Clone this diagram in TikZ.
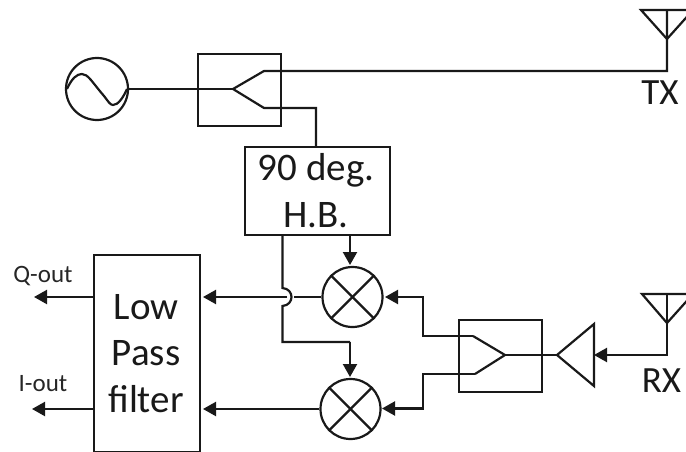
\documentclass[tikz,border=0pt]{standalone}
\usepackage{fontspec}
\setmainfont{Carlito}
\usetikzlibrary{arrows.meta}
\tikzset{
  x=1pt,y=-1pt,
  wire/.style={line width=2.2pt,line join=miter,draw=black!90},
  arrowwire/.style={wire,-{Triangle[length=13pt,width=14pt]}},
  blockbox/.style={draw=black!90,line width=2.4pt,rectangle,inner sep=0pt,anchor=north west,align=center},
  mixer/.style={draw=black!90,line width=2.2pt,circle,minimum size=60pt,inner sep=0pt},
  bigtext/.style={font=\fontsize{39}{46}\selectfont,inner sep=0pt,anchor=base,text=black!90},
  labeltext/.style={font=\fontsize{37}{46}\selectfont,inner sep=0pt,anchor=base,text=black!90},
  smalltext/.style={font=\fontsize{25}{28}\selectfont,text=black!85,inner sep=0pt,anchor=base}
}
\begin{document}
\begin{tikzpicture}
\useasboundingbox (0,0) rectangle (686,452);
% blocks
\node[blockbox,minimum width=83pt,minimum height=72pt] (split) at (197,53) {};
\node[blockbox,minimum width=145pt,minimum height=88pt] (hb) at (244,146) {};
\node[bigtext] (hbone) at (316,180) {90 deg.};
\node[bigtext] (hbtwo) at (316,227) {H.B.};
\node[blockbox,minimum width=106pt,minimum height=197pt] (lpf) at (92.5,254) {};
\node[bigtext] (lpfa) at (146,319) {Low};
\node[bigtext] (lpfb) at (146,365) {Pass};
\node[bigtext] (lpfc) at (146,412) {filter};
\node[blockbox,minimum width=83pt,minimum height=72pt] (comb) at (458,319) {};
% oscillator
\node[draw=black!90,line width=2.2pt,circle,minimum size=62pt,inner sep=0pt] (osc) at (97,89) {};
\draw[line width=2.2pt,draw=black!90] (67,89) .. controls (72,78) and (77,74) .. (82,74)
  .. controls (88,74) and (92,82) .. (104,96)
  .. controls (108,101) and (110,105) .. (113,105)
  .. controls (118,105) and (123,98) .. (127,89);
% mixers
\node[mixer] (m1) at (352.5,297) {};
\node[mixer] (m2) at (350.5,409) {};
\foreach \m in {m1,m2}{
  \draw[wire] (\m.45) -- (\m.225);
  \draw[wire] (\m.135) -- (\m.315);
}
% TX path
\coordinate (sa) at (233,89);
\coordinate (su) at (264,71);
\coordinate (sl) at (264,108);
\coordinate (hbin) at (316,146);
\coordinate (txa) at (667,39);
\coordinate (txtop) at (667,10);
\coordinate (txl) at (641,10);
\coordinate (txr) at (693,10);
\draw[wire] (osc.east) -- (sa);
\draw[wire] (sa) -- (su) -- (su -| txa) -- (txtop);
\draw[wire] (sa) -- (sl) -- (sl -| hbin) -- (hbin);
\begin{scope}
\clip (0,0) rectangle (686,452);
\draw[wire] (txl) -- (txr) -- (txa) -- cycle;
\end{scope}
\node[labeltext] (txlab) at (660,105) {TX};
% LO path
\coordinate (lo) at (350,234);
\coordinate (lotip) at (350,265);
\coordinate (lob) at (282.5,234);
\coordinate (loc) at (350,342);
\coordinate (lotwo) at (350,377);
\draw[arrowwire] (lo) -- (lotip);
\draw[wire] (lob) -- (282.5,288) .. controls (294.5,289) and (294.5,305) .. (282.5,306) -- (282.5,342) -- (loc);
\draw[arrowwire] (loc) -- (lotwo);
% IF path
\coordinate (lpfqt) at (203,297);
\coordinate (lpfit) at (203,409);
\coordinate (jumpr) at (294,297);
\coordinate (jumpl) at (287,297);
\draw[wire] (m1.west) -- (jumpr);
\draw[arrowwire] (jumpl) -- (lpfqt);
\draw[arrowwire] (m2.west) -- (lpfit);
\coordinate (qt) at (34,297);
\coordinate (it) at (32,409);
\draw[arrowwire] (lpf.west |- qt) -- (qt);
\draw[arrowwire] (lpf.west |- it) -- (it);
\node[smalltext] (qlab) at (43,282) {Q-out};
\node[smalltext] (ilab) at (43,391) {I-out};
% RX path
\coordinate (ca) at (505,355);
\coordinate (cu) at (473,336);
\coordinate (cl) at (475,374);
\coordinate (ampa) at (557,355);
\coordinate (ampt) at (594,324);
\coordinate (ampb) at (594,386);
\coordinate (rxa) at (667,323);
\coordinate (rxtop) at (667,294);
\coordinate (rxl) at (642,294);
\coordinate (rxr) at (693,294);
\coordinate (rxb) at (667,355);
\draw[wire] (cu) -- (ca) -- (cl);
\draw[wire] (ca) -- (ampa);
\draw[wire] (ampa) -- (ampt) -- (ampb) -- cycle;
\draw[arrowwire] (cu) -- (423,336) -- (423,297) -- (385,297);
\draw[arrowwire] (cl) -- (423,374) -- (423,408.5) -- (382,408.5);
\draw[arrowwire] (rxtop) -- (rxb) -- (594,355);
\begin{scope}
\clip (0,0) rectangle (686,452);
\draw[wire] (rxl) -- (rxr) -- (rxa) -- cycle;
\end{scope}
\node[labeltext] (rxlab) at (661.5,392) {RX};
\end{tikzpicture}
\end{document}
